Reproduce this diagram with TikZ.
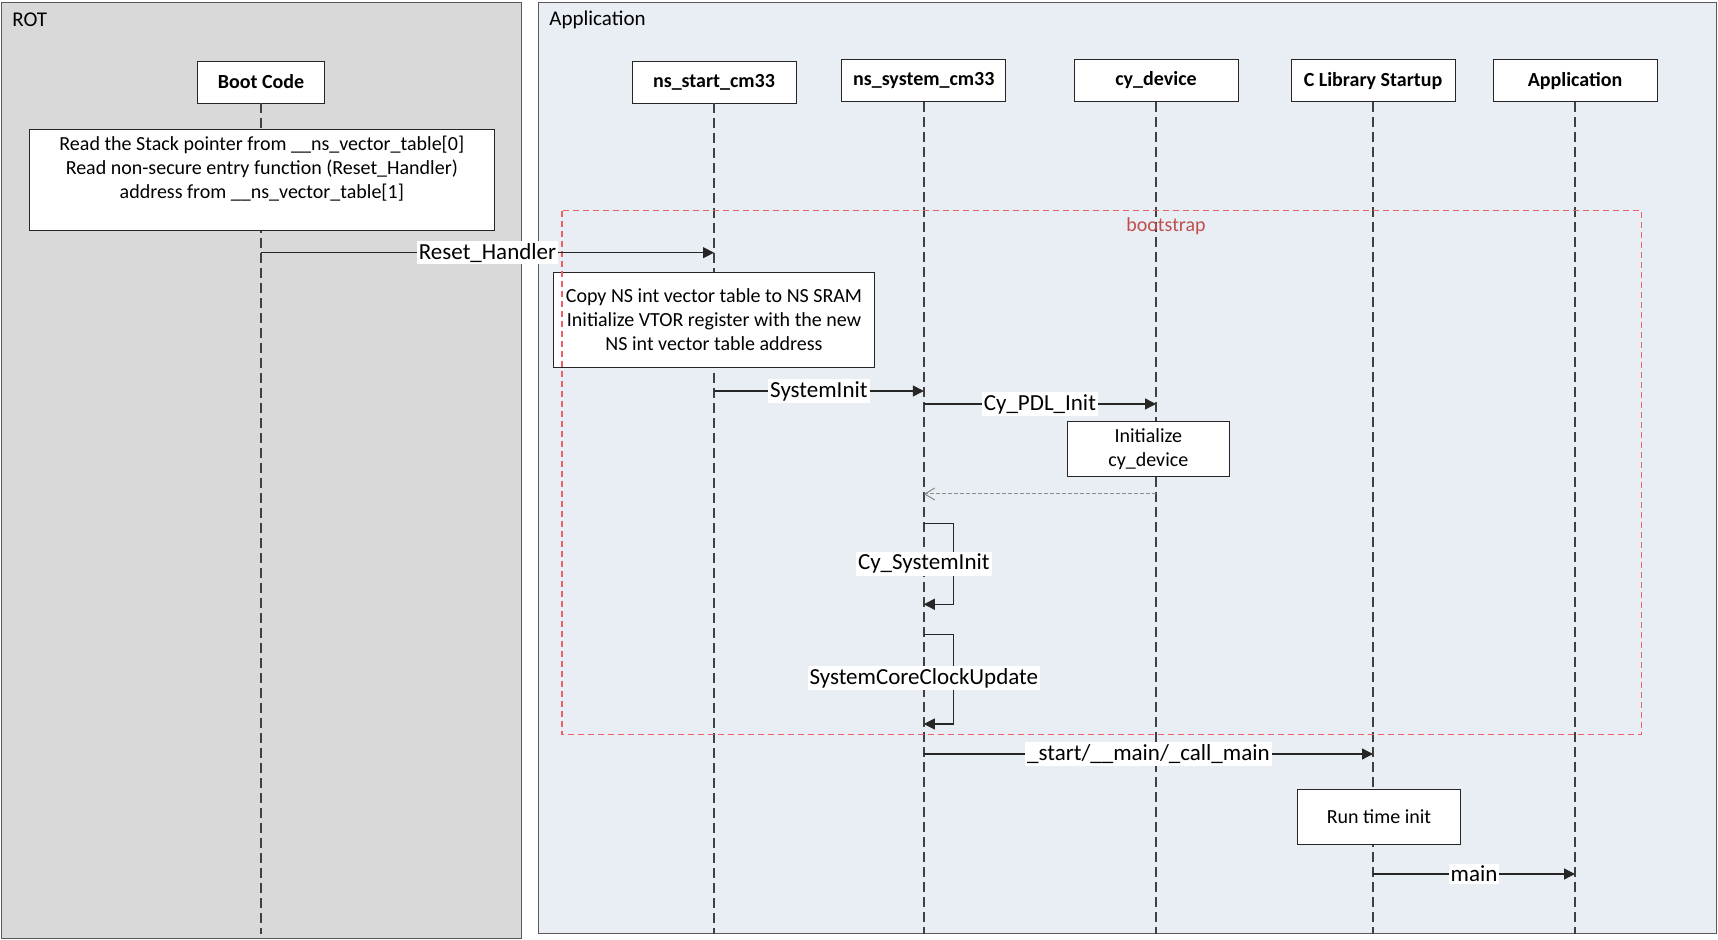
\documentclass[tikz,border=0pt]{standalone}
\usepackage{fontspec}
\setmainfont{Carlito}
\usepackage{tikz}
\usetikzlibrary{arrows.meta,calc,positioning}
\definecolor{rotgray}{RGB}{217,217,217}
\definecolor{appbg}{RGB}{233,237,244}
\definecolor{bsred}{RGB}{232,98,104}
\definecolor{bstext}{RGB}{192,80,77}
\definecolor{lifegray}{RGB}{64,64,64}

\begin{document}
\begin{tikzpicture}[
  x=0.5pt, y=-0.5pt,
  panel/.style={draw=black!65, line width=0.5pt},
  hdr/.style={draw=black!85, fill=white, minimum width=82pt, minimum height=21pt, inner sep=0pt, font=\fontsize{10}{12}\selectfont\bfseries},
  note/.style={draw=black!85, fill=white, align=center, inner sep=0pt, font=\fontsize{10}{12}\selectfont},
  lifeline/.style={draw=lifegray, line width=0.8pt, dash pattern=on 5pt off 2.5pt},
  msg/.style={draw=black!85, line width=0.6pt, -{Triangle[length=5.5pt,width=5.5pt]}},
  ret/.style={draw=black!45, line width=0.5pt, dash pattern=on 2pt off 1pt, -{Straight Barb[length=5pt,width=6pt]}},
  lbl/.style={fill=white, inner sep=1pt, font=\fontsize{11.5}{13}\selectfont}
]
\useasboundingbox (0,0) rectangle (1718,940);
\draw[panel, fill=rotgray] (1.8,2.7) rectangle (521.4,938);
\draw[panel, fill=appbg] (538.2,2.7) rectangle (1716,933.5);
\node[anchor=west, inner sep=0pt, font=\fontsize{10.5}{12}\selectfont] (rot) at (12,20) {ROT};
\node[anchor=west, inner sep=0pt, font=\fontsize{10.5}{12}\selectfont] (app) at (549,20) {Application};

\node[hdr, minimum width=63.5pt] (boot) at (261,82) {Boot Code};
\node[hdr] (nsstart) at (714,82) {ns\_start\_cm33};
\node[hdr] (nssys) at (923.8,80.5) {ns\_system\_cm33};
\node[hdr] (cydev) at (1156,80.5) {cy\_device};
\node[hdr] (clib) at (1373,80.7) {C Library Startup};
\node[hdr] (appl) at (1575,80.7) {Application};

\foreach \p in {boot,nsstart,nssys,cydev,clib,appl}
  \draw[lifeline] (\p.south) -- (\p |- 0,934);

\node[note, minimum width=232.3pt, minimum height=50.3pt] (bootnote) at (261.8,179.7)
  {Read the Stack pointer from \_\_ns\_vector\_table[0]\\Read non-secure entry function (Reset\_Handler)\\address from \_\_ns\_vector\_table[1]\\ \mbox{}};
\node[note, minimum width=160.5pt, minimum height=47.5pt] (copynote) at (714,319.8)
  {Copy NS int vector table to NS SRAM\\Initialize VTOR register with the new\\NS int vector table address};
\node[note, minimum width=81pt, minimum height=27.3pt] (cyinit) at (1148.3,449)
  {Initialize\\cy\_device};
\node[note, minimum width=81.3pt, minimum height=27.5pt] (runinit) at (1379,816.7)
  {Run time init};

\draw[draw=bsred, line width=0.6pt, dash pattern=on 3pt off 2pt] (562,210.7) rectangle (1641.7,734.3);
\node[text=bstext, inner sep=0pt, font=\fontsize{10}{12}\selectfont] (bs) at (1166,226) {bootstrap};

\draw[msg] (boot |- 0,252.7) -- node[lbl] {Reset\_Handler} (nsstart |- 0,252.7);
\draw[msg] (nsstart |- 0,391) -- node[lbl] {SystemInit} (nssys |- 0,391);
\draw[msg] (nssys |- 0,404) -- node[lbl] {Cy\_PDL\_Init} (cydev |- 0,404);
\draw[ret] (cydev |- 0,494) -- (nssys |- 0,494);
\draw[msg] (nssys |- 0,523.3) -- ++(29.5,0) |- (nssys |- 0,604.3);
\node[lbl] (csi) at (nssys |- 0,563.8) {Cy\_SystemInit};
\draw[msg] (nssys |- 0,634.3) -- ++(29.5,0) |- (nssys |- 0,724);
\node[lbl] (sccu) at (nssys |- 0,678.3) {SystemCoreClockUpdate};
\draw[msg] (nssys |- 0,754) -- node[lbl] {\_start/\_\_main/\_call\_main} (clib |- 0,754);
\draw[msg] (clib |- 0,874) -- node[lbl] {main} (appl |- 0,874);
\end{tikzpicture}
\end{document}
